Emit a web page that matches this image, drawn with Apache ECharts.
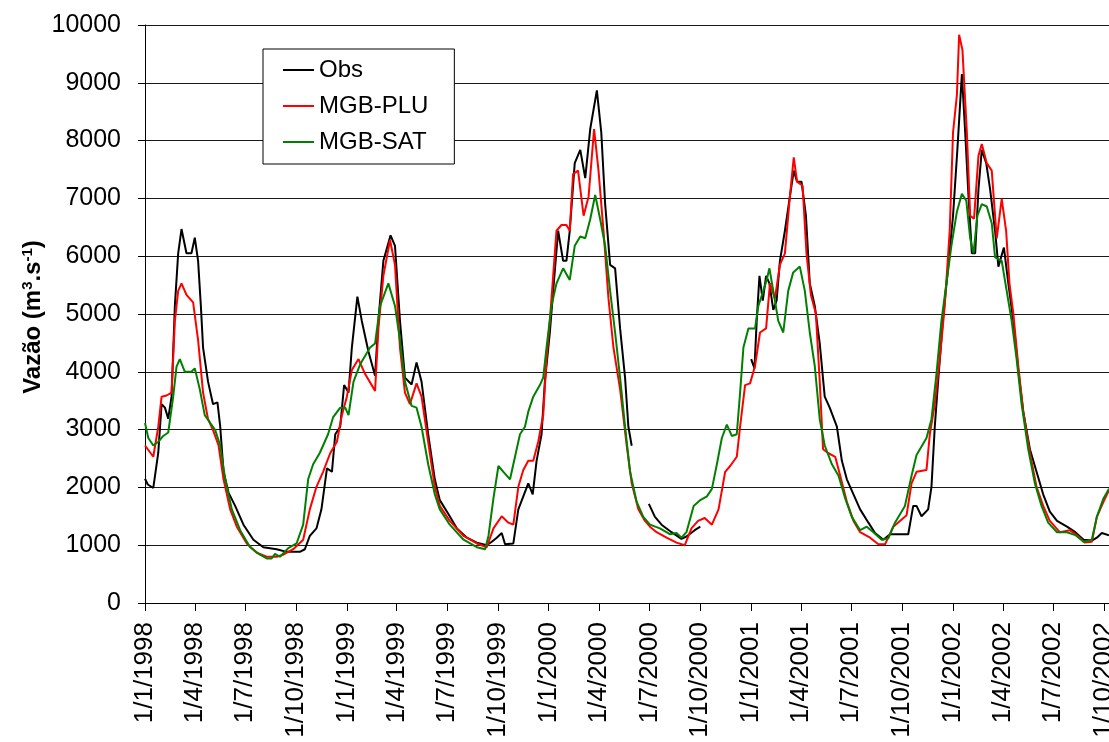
<!DOCTYPE html>
<html>
<head>
<meta charset="utf-8">
<script src="https://cdn.jsdelivr.net/npm/echarts@6/dist/echarts.min.js"></script>
<style>
  html, body { margin: 0; padding: 0; background: #fff; }
  #chart { width: 1109px; height: 742px; }
</style>
</head>
<body>
<div id="chart"></div>
<script>
// x values are days counted from 1/1/1998; y values in m3/s
const tickLabels = ['1/1/1998','1/4/1998','1/7/1998','1/10/1998','1/1/1999','1/4/1999','1/7/1999','1/10/1999',
  '1/1/2000','1/4/2000','1/7/2000','1/10/2000','1/1/2001','1/4/2001','1/7/2001','1/10/2001',
  '1/1/2002','1/4/2002','1/7/2002','1/10/2002'];
const seriesNames = ['Obs', 'MGB-PLU', 'MGB-SAT'];

const obs = [[0,2150],[5,2050],[15,1990],[24,2600],[30,3440],[36,3380],[42,3190],[48,3570],[54,5140],[60,6050],[66,6470],[75,6050],[84,6050],[90,6320],[96,5920],[101,5140],[105,4420],[114,3830],[123,3440],[131,3470],[136,3050],[142,2270],[151,1910],[163,1680],[178,1355],[196,1095],[214,965],[238,930],[256,885],[280,885],[289,930],[298,1160],[310,1290],[319,1620],[329,2330],[338,2270],[344,2920],[353,3050],[360,3770],[368,3640],[374,4420],[384,5300],[392,4880],[404,4350],[416,3930],[422,4880],[431,5920],[444,6360],[452,6180],[461,4880],[470,3900],[482,3780],[491,4160],[500,3830],[512,2920],[524,2140],[533,1780],[548,1550],[564,1290],[582,1130],[600,1045],[618,1000],[627,1060],[636,1130],[645,1210],[651,1015],[666,1030],[675,1620],[684,1845],[693,2070],[701,1880],[708,2460],[717,2920],[723,3830],[732,4680],[738,5400],[747,6440],[756,5920],[762,5920],[768,6440],[777,7610],[787,7840],[796,7350],[805,8200],[817,8870],[825,8140],[832,6900],[841,5850],[850,5790],[859,4750],[868,3900],[874,3050],[880,2720],[895,null],[911,1715],[922,1490],[934,1355],[952,1225],[970,1110],[979,1150],[994,1260],[1004,1320],[1050,null],[1096,4220],[1102,4060],[1106,4880],[1111,5660],[1117,5230],[1123,5660],[1129,5530],[1136,5070],[1142,5230],[1148,5920],[1157,6440],[1166,7030],[1173,7480],[1179,7290],[1187,7290],[1195,6700],[1202,5530],[1211,5140],[1220,4490],[1229,3570],[1238,3380],[1251,3050],[1260,2460],[1269,2140],[1281,1880],[1293,1620],[1308,1390],[1320,1210],[1335,1095],[1347,1190],[1362,1190],[1380,1190],[1389,1680],[1395,1680],[1404,1500],[1416,1620],[1422,2010],[1428,3050],[1434,3830],[1443,4940],[1452,5790],[1461,6700],[1469,7870],[1477,9150],[1483,8140],[1489,7030],[1495,6050],[1501,6050],[1507,7160],[1513,7840],[1521,7610],[1528,7160],[1537,6440],[1543,5820],[1553,6150],[1561,5530],[1570,4880],[1579,4030],[1588,3310],[1600,2660],[1612,2270],[1624,1880],[1636,1580],[1649,1420],[1667,1320],[1682,1225],[1697,1095],[1712,1080],[1721,1130],[1730,1210],[1743,1170]];

const plu = [[0,2725],[15,2530],[24,3050],[30,3570],[39,3590],[48,3640],[54,4880],[60,5400],[66,5530],[75,5330],[87,5200],[96,4550],[105,3640],[114,3180],[123,2990],[133,2725],[142,2140],[154,1620],[166,1320],[184,1030],[202,870],[220,800],[238,800],[250,835],[268,930],[286,1095],[298,1620],[310,2010],[322,2270],[335,2595],[347,2790],[356,3250],[365,3570],[374,4030],[386,4220],[398,3960],[416,3670],[422,4750],[431,5660],[443,6280],[452,5850],[461,4420],[470,3640],[479,3440],[491,3800],[500,3570],[512,2790],[524,2010],[533,1680],[551,1420],[576,1160],[600,1030],[618,965],[630,1290],[645,1500],[657,1390],[666,1355],[675,2010],[684,2300],[693,2460],[702,2460],[711,2790],[720,3250],[726,4220],[732,4880],[738,5660],[744,6440],[753,6540],[762,6540],[768,6440],[774,7420],[783,7480],[793,6700],[802,7030],[812,8200],[820,7480],[829,6440],[838,5270],[847,4420],[859,3700],[871,2725],[880,2070],[892,1620],[904,1420],[913,1320],[925,1225],[943,1130],[961,1045],[976,1000],[988,1290],[1000,1420],[1012,1470],[1025,1355],[1037,1620],[1049,2270],[1058,2370],[1070,2530],[1076,3050],[1085,3770],[1094,3800],[1103,4100],[1112,4680],[1123,4750],[1130,5530],[1139,5270],[1148,5850],[1157,6050],[1166,7030],[1173,7710],[1179,7290],[1189,7220],[1196,6050],[1204,5330],[1213,5010],[1220,3830],[1226,2660],[1235,2595],[1248,2530],[1257,2200],[1269,1750],[1281,1420],[1293,1225],[1311,1130],[1326,1015],[1338,1015],[1353,1320],[1365,1420],[1377,1520],[1386,2070],[1395,2270],[1413,2300],[1419,2920],[1428,3440],[1437,4220],[1446,5140],[1455,6440],[1461,8140],[1468,8790],[1472,9830],[1478,9570],[1486,8140],[1492,6700],[1499,6650],[1507,7740],[1513,7940],[1522,7610],[1531,7480],[1540,6310],[1549,6990],[1557,6440],[1563,5530],[1570,5010],[1579,4100],[1588,3310],[1600,2595],[1612,2010],[1624,1680],[1636,1420],[1654,1225],[1672,1260],[1687,1160],[1699,1045],[1712,1060],[1721,1490],[1733,1750],[1743,1950]];

const sat = [[0,3115],[6,2855],[15,2725],[24,2790],[33,2890],[42,2950],[51,3570],[57,4090],[63,4220],[72,4000],[84,4000],[90,4060],[99,3700],[108,3250],[118,3115],[127,2990],[136,2725],[145,2140],[157,1620],[172,1260],[190,965],[208,835],[220,770],[229,770],[235,850],[244,800],[259,950],[274,1030],[286,1355],[295,2140],[304,2400],[316,2595],[325,2790],[331,2920],[340,3210],[353,3380],[362,3380],[368,3250],[377,3830],[389,4130],[407,4420],[416,4490],[425,5140],[440,5530],[452,5140],[461,4550],[470,3830],[482,3410],[491,3380],[500,3050],[512,2400],[524,1880],[533,1620],[551,1355],[576,1095],[600,965],[615,930],[621,1160],[630,1810],[639,2370],[648,2270],[660,2140],[669,2530],[678,2920],[687,3050],[693,3310],[702,3570],[714,3770],[720,3900],[726,4420],[735,5140],[744,5530],[756,5790],[768,5590],[777,6180],[787,6340],[796,6310],[805,6640],[814,7060],[823,6640],[832,6180],[841,5400],[850,4680],[859,3900],[868,3050],[877,2270],[889,1750],[901,1490],[913,1355],[931,1290],[949,1190],[961,1210],[970,1130],[979,1225],[992,1680],[1004,1780],[1016,1845],[1025,1975],[1034,2400],[1043,2855],[1052,3085],[1061,2890],[1070,2920],[1076,3640],[1082,4420],[1091,4750],[1103,4750],[1109,5140],[1118,5400],[1124,5590],[1129,5790],[1136,5400],[1145,4880],[1154,4680],[1163,5400],[1172,5720],[1184,5820],[1193,5400],[1202,4680],[1211,4100],[1220,3180],[1229,2725],[1242,2400],[1254,2200],[1266,1810],[1278,1490],[1293,1260],[1305,1320],[1317,1225],[1332,1095],[1344,1120],[1356,1390],[1374,1680],[1386,2200],[1395,2560],[1413,2855],[1422,3180],[1431,3960],[1440,4880],[1449,5530],[1458,6180],[1468,6770],[1477,7080],[1485,6960],[1492,6310],[1498,6050],[1505,6700],[1513,6900],[1522,6860],[1531,6570],[1537,5980],[1549,5920],[1558,5400],[1567,4880],[1576,4220],[1585,3440],[1597,2660],[1609,2070],[1621,1680],[1633,1390],[1649,1225],[1667,1225],[1682,1175],[1697,1060],[1712,1095],[1721,1490],[1733,1810],[1743,1975]];

// tick positions (days since 1/1/1998) derived from the tick labels
const base = Date.UTC(1998, 0, 1);
const tickDays = tickLabels.map(s => {
  const p = s.split('/').map(Number);
  return Math.round((Date.UTC(p[2], p[1] - 1, p[0]) - base) / 864e5);
});
const labelByDay = {};
tickDays.forEach((d, i) => { labelByDay[d] = tickLabels[i]; });

const FONT = "'Liberation Sans', Arial, sans-serif";
const chart = echarts.init(document.getElementById('chart'), null, { renderer: 'canvas' });

chart.setOption({
  animation: false,
  backgroundColor: '#ffffff',
  grid: { left: 145, top: 25, right: 0, bottom: 139, containLabel: false, outerBoundsMode: 'none' },
  legend: {
    orient: 'vertical',
    left: 263, top: 49,
    padding: [9, 26, 10, 20],
    itemGap: 12,
    itemWidth: 31, itemHeight: 2,
    icon: 'rect',
    backgroundColor: '#ffffff',
    borderColor: '#000000', borderWidth: 1,
    textStyle: { fontFamily: FONT, fontSize: 24, color: '#000' },
    data: seriesNames
  },
  xAxis: {
    type: 'value',
    min: 0, max: 1743,
    axisLine: { show: true, lineStyle: { color: '#000', width: 1 } },
    axisTick: { show: true, inside: false, length: 8, customValues: tickDays, lineStyle: { color: '#000' } },
    axisLabel: {
      customValues: tickDays,
      rotate: 90, margin: 19,
      fontFamily: FONT, fontSize: 26, color: '#000',
      formatter: v => labelByDay[Math.round(v)] || ''
    },
    splitLine: { show: false }
  },
  yAxis: {
    type: 'value',
    min: 0, max: 10000, interval: 1000,
    axisLine: { show: true, lineStyle: { color: '#000', width: 1 } },
    axisTick: { show: true, length: 7, lineStyle: { color: '#000' } },
    axisLabel: { margin: 24, fontFamily: FONT, fontSize: 25, color: '#000', formatter: v => String(v) },
    splitLine: { show: true, lineStyle: { color: '#1a1a1a', width: 1 } }
  },
  graphic: [{
    type: 'text',
    x: 33, y: 317,
    rotation: Math.PI / 2,
    style: {
      text: '{a|Vazão (m}{s|3}{a|.s}{s|-1}{a|)}',
      align: 'center', verticalAlign: 'middle',
      rich: {
        a: { fontFamily: FONT, fontSize: 24, fontWeight: 'bold', fill: '#000', lineHeight: 26 },
        s: { fontFamily: FONT, fontSize: 15, fontWeight: 'bold', fill: '#000', verticalAlign: 'top', lineHeight: 26, padding: [0, 0, 12, 0] }
      },
      fill: '#000'
    }
  }],
  series: [
    { name: seriesNames[0], type: 'line', data: obs, showSymbol: false, symbol: 'none', connectNulls: false,
      lineStyle: { color: '#000000', width: 2 }, itemStyle: { color: '#000000' } },
    { name: seriesNames[1], type: 'line', data: plu, showSymbol: false, symbol: 'none',
      lineStyle: { color: '#ff0000', width: 2 }, itemStyle: { color: '#ff0000' } },
    { name: seriesNames[2], type: 'line', data: sat, showSymbol: false, symbol: 'none',
      lineStyle: { color: '#008000', width: 2 }, itemStyle: { color: '#008000' } }
  ]
});
</script>
</body>
</html>
